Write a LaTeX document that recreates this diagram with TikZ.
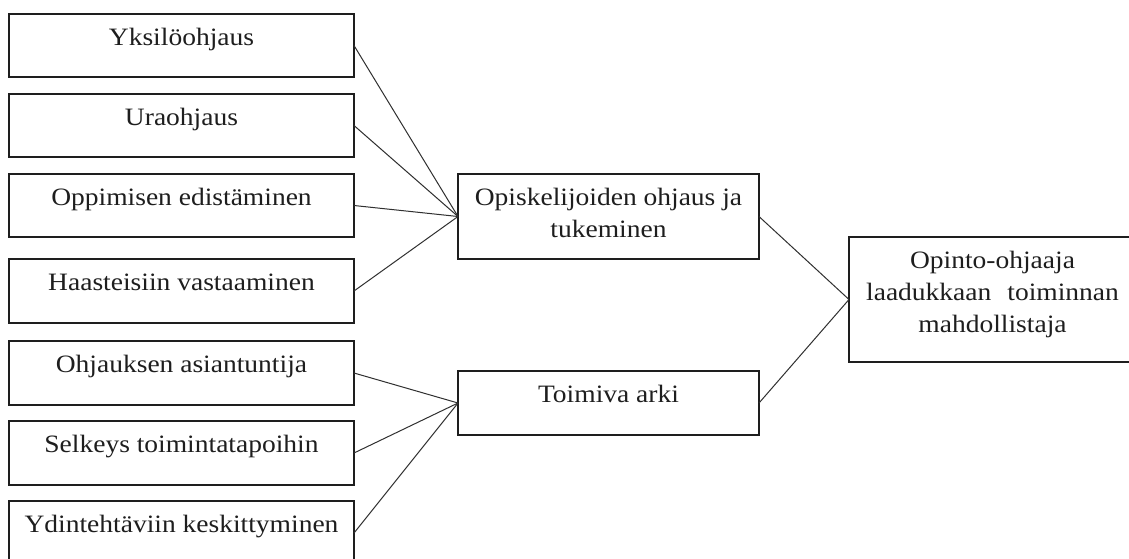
\documentclass[tikz,border=0pt]{standalone}
\usepackage{fontspec}
\setmainfont{Liberation Serif}[FakeStretch=1.1]
\definecolor{ink}{HTML}{1E1E1E}
\definecolor{edge}{HTML}{303030}
\newcommand{\boxtxt}[3]{\parbox[c][#2pt][t]{#1pt}{\centering\fontsize{25}{32}\selectfont\rule{0pt}{31pt}#3}}
\begin{document}
\begin{tikzpicture}[x=1pt,y=-1pt,
  box/.style={draw=ink, line width=1.3pt, inner sep=0pt, outer sep=0pt, text=ink},
  link/.style={draw=edge, line width=1pt}]
\useasboundingbox (0,0) rectangle (1129,558);
\clip (0,0) rectangle (1129,558);
\fill[white] (0,0) rectangle (1129,558);
% left column
\node[box] (l1) at (181.5,45.5) {\boxtxt{345}{63}{Yksilöohjaus}};
\node[box] (l2) at (181.5,125.5) {\boxtxt{345}{63}{Uraohjaus}};
\node[box] (l3) at (181.5,205.5) {\boxtxt{345}{63}{Oppimisen edistäminen}};
\node[box] (l4) at (181.5,291) {\boxtxt{345}{64}{Haasteisiin vastaaminen}};
\node[box] (l5) at (181.5,373) {\boxtxt{345}{64}{Ohjauksen asiantuntija}};
\node[box] (l6) at (181.5,453) {\boxtxt{345}{64}{Selkeys toimintatapoihin}};
\node[box] (l7) at (181.5,541) {\boxtxt{345}{80}{Ydintehtäviin keskittyminen}};
\coordinate (l7e) at (354,533);
% middle column
\node[box] (m1) at (608.5,216.5) {\boxtxt{301}{85}{Opiskelijoiden ohjaus ja\\ tukeminen}};
\node[box] (m2) at (608.5,403) {\boxtxt{301}{64}{Toimiva arki}};
% right
\node[box] (r) at (1009,299.5) {\boxtxt{287}{125}{Opinto-ohjaaja\\ laadukkaan\hspace{16pt}toiminnan\\ mahdollistaja}\rule{33pt}{0pt}};
% connectors
\foreach \s in {l1,l2,l3,l4} \draw[link] (\s.east) -- (m1.west);
\foreach \s in {l5,l6} \draw[link] (\s.east) -- (m2.west);
\draw[link] (l7e) -- (m2.west);
\draw[link] (m1.east) -- (r.west);
\draw[link] (m2.east) -- (r.west);
\end{tikzpicture}
\end{document}
